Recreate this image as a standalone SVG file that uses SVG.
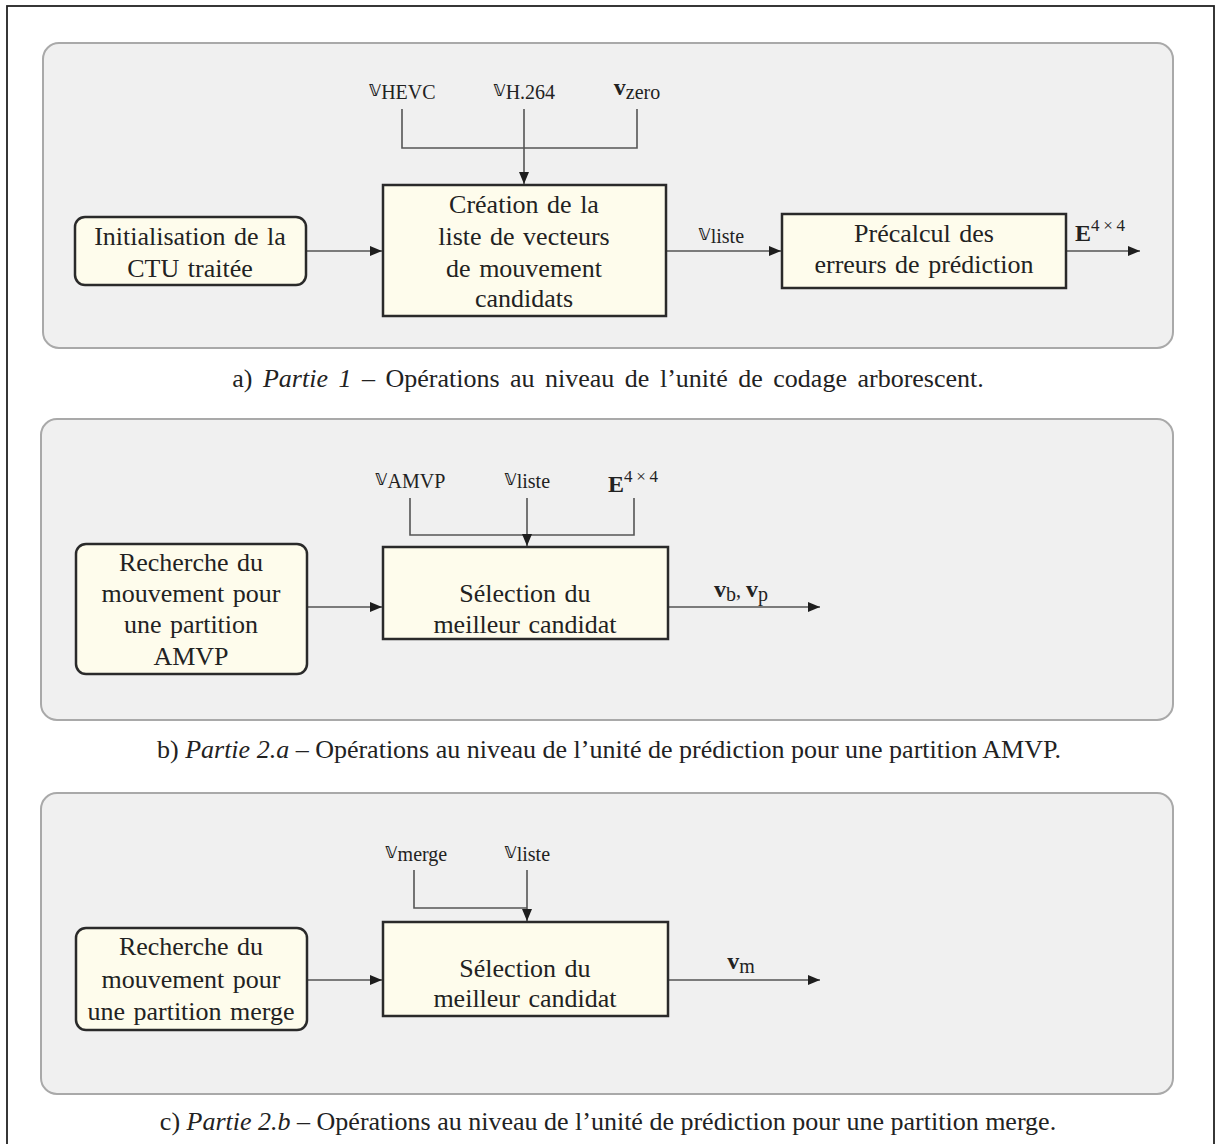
<svg xmlns="http://www.w3.org/2000/svg" width="1216" height="1144" viewBox="0 0 1216 1144">
<style>
.panel{fill:#f0f0f0;stroke:#a9a9a9;stroke-width:2}
.box{fill:#fefcec;stroke:#2a2a2a;stroke-width:2.5}
.bt{font-family:"Liberation Serif",serif;font-size:26px;fill:#222;text-anchor:middle;word-spacing:2px}
.cap{font-family:"Liberation Serif",serif;font-size:26px;fill:#222;text-anchor:middle}
.lab{font-family:"Liberation Serif",serif;font-size:20px;fill:#222}
.bb{font-family:"DejaVu Sans","Noto Sans",sans-serif;font-size:21px}
.bv{font-weight:bold;font-size:24px}
.c{fill:none;stroke:#555;stroke-width:1.6}
</style>
<defs>
<marker id="ah" viewBox="0 0 12 10" refX="12" refY="5" markerWidth="12" markerHeight="10" markerUnits="userSpaceOnUse" orient="auto">
<path d="M0,0 L12,5 L0,10 Z" fill="#1e1e1e"/>
</marker>
</defs>
<rect x="0" y="0" width="1216" height="1144" fill="#ffffff"/>
<rect x="7" y="6" width="1207" height="1145" fill="none" stroke="#222" stroke-width="1.8"/>

<g id="panel-a">
<rect class="panel" x="43" y="43" width="1130" height="305" rx="16"/>
<text class="cap" x="608" y="387" word-spacing="4">a) <tspan font-style="italic">Partie 1</tspan> – Opérations au niveau de l’unité de codage arborescent.</text>
</g>
<g id="panel-b">
<rect class="panel" x="41" y="419" width="1132" height="301" rx="16"/>
<text class="cap" x="609" y="758">b) <tspan font-style="italic">Partie 2.a</tspan> – Opérations au niveau de l’unité de prédiction pour une partition AMVP.</text>
</g>
<g id="panel-c">
<rect class="panel" x="41" y="793" width="1132" height="301" rx="16"/>
<text class="cap" x="608" y="1130">c) <tspan font-style="italic">Partie 2.b</tspan> – Opérations au niveau de l’unité de prédiction pour une partition merge.</text>
</g>

<g id="connectors">
<path class="c" d="M306,251 H382" marker-end="url(#ah)"/>
<path class="c" d="M402,109 V148 H637 V109"/>
<path class="c" d="M524,109 V184" marker-end="url(#ah)"/>
<path class="c" d="M666,251 H781" marker-end="url(#ah)"/>
<path class="c" d="M1066,251 H1140" marker-end="url(#ah)"/>

<path class="c" d="M307,607 H382" marker-end="url(#ah)"/>
<path class="c" d="M410,498 V535 H634 V498"/>
<path class="c" d="M527,498 V546" marker-end="url(#ah)"/>
<path class="c" d="M668,607 H820" marker-end="url(#ah)"/>

<path class="c" d="M307,980 H382" marker-end="url(#ah)"/>
<path class="c" d="M414,870 V908 H527"/>
<path class="c" d="M527,870 V921" marker-end="url(#ah)"/>
<path class="c" d="M668,980 H820" marker-end="url(#ah)"/>
</g>

<g id="labels">
<text class="lab" x="402" y="99" text-anchor="middle"><tspan class="bb" dy="-3">𝕧</tspan><tspan dy="3">HEVC</tspan></text>
<text class="lab" x="524" y="99" text-anchor="middle"><tspan class="bb" dy="-3">𝕧</tspan><tspan dy="3">H.264</tspan></text>
<text class="lab" x="637" y="99" text-anchor="middle"><tspan class="bv" dy="-4">v</tspan><tspan dy="4">zero</tspan></text>
<text class="lab" x="721" y="243" text-anchor="middle"><tspan class="bb" dy="-3">𝕧</tspan><tspan dy="3">liste</tspan></text>
<text class="lab" x="1075" y="241"><tspan class="bv" font-size="26">E</tspan><tspan font-size="17" dy="-10" textLength="34" lengthAdjust="spacing">4×4</tspan></text>

<text class="lab" x="410" y="488" text-anchor="middle"><tspan class="bb" dy="-3">𝕧</tspan><tspan dy="3">AMVP</tspan></text>
<text class="lab" x="527" y="488" text-anchor="middle"><tspan class="bb" dy="-3">𝕧</tspan><tspan dy="3">liste</tspan></text>
<text class="lab" x="608" y="492"><tspan class="bv" font-size="26">E</tspan><tspan font-size="17" dy="-10" textLength="34" lengthAdjust="spacing">4×4</tspan></text>
<text class="lab" x="741" y="597" text-anchor="middle"><tspan class="bv">v</tspan><tspan dy="4">b</tspan><tspan dy="-4">, </tspan><tspan class="bv">v</tspan><tspan dy="4">p</tspan></text>

<text class="lab" x="416" y="861" text-anchor="middle"><tspan class="bb" dy="-3">𝕧</tspan><tspan dy="3">merge</tspan></text>
<text class="lab" x="527" y="861" text-anchor="middle"><tspan class="bb" dy="-3">𝕧</tspan><tspan dy="3">liste</tspan></text>
<text class="lab" x="741" y="969" text-anchor="middle"><tspan class="bv">v</tspan><tspan dy="4">m</tspan></text>
</g>

<g id="node-init">
<rect class="box" x="75" y="217" width="231" height="68" rx="10"/>
<text class="bt" x="190" y="245">Initialisation de la</text>
<text class="bt" x="190" y="277">CTU traitée</text>
</g>
<g id="node-creation">
<rect class="box" x="383" y="185" width="283" height="131"/>
<text class="bt" x="524" y="213">Création de la</text>
<text class="bt" x="524" y="245">liste de vecteurs</text>
<text class="bt" x="524" y="277">de mouvement</text>
<text class="bt" x="524" y="307">candidats</text>
</g>
<g id="node-precalcul">
<rect class="box" x="782" y="214" width="284" height="74"/>
<text class="bt" x="924" y="242">Précalcul des</text>
<text class="bt" x="924" y="273">erreurs de prédiction</text>
</g>

<g id="node-recherche-amvp">
<rect class="box" x="76" y="544" width="231" height="130" rx="10"/>
<text class="bt" x="191" y="571">Recherche du</text>
<text class="bt" x="191" y="602">mouvement pour</text>
<text class="bt" x="191" y="633">une partition</text>
<text class="bt" x="191" y="665">AMVP</text>
</g>
<g id="node-selection-amvp">
<rect class="box" x="383" y="547" width="285" height="92"/>
<text class="bt" x="525" y="602">Sélection du</text>
<text class="bt" x="525" y="633">meilleur candidat</text>
</g>

<g id="node-recherche-merge">
<rect class="box" x="76" y="928" width="231" height="102" rx="10"/>
<text class="bt" x="191" y="955">Recherche du</text>
<text class="bt" x="191" y="988">mouvement pour</text>
<text class="bt" x="191" y="1020">une partition merge</text>
</g>
<g id="node-selection-merge">
<rect class="box" x="383" y="922" width="285" height="94"/>
<text class="bt" x="525" y="977">Sélection du</text>
<text class="bt" x="525" y="1007">meilleur candidat</text>
</g>
</svg>
